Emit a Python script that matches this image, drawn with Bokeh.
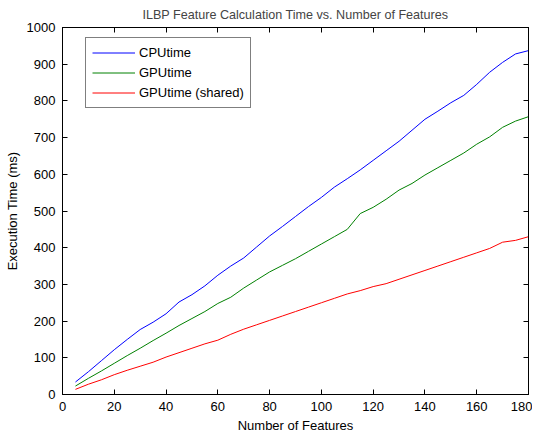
from bokeh.plotting import figure
from bokeh.models import Range1d, LinearAxis, Legend, LegendItem, SingleIntervalTicker
from bokeh.embed import file_html
from bokeh.resources import INLINE

features = list(range(5, 181, 5))
cpu_time = [34, 62, 92, 122, 150, 177, 197, 220, 252, 272, 296, 325, 350, 372, 402, 432,
            458, 485, 512, 537, 565, 588, 612, 638, 664, 690, 720, 750, 772, 795, 815, 845,
            878, 905, 928, 937]
gpu_time = [23, 44, 64, 85, 106, 126, 147, 167, 188, 207, 226, 248, 265, 290, 312, 334,
            352, 370, 390, 410, 430, 450, 493, 510, 532, 557, 575, 598, 618, 638, 658, 682,
            702, 728, 745, 757]
gpu_shared = [14, 28, 40, 54, 66, 77, 88, 102, 114, 126, 138, 148, 164, 178, 190, 202,
              214, 226, 238, 250, 262, 274, 283, 294, 302, 314, 326, 338, 350, 362, 374, 386,
              398, 415, 420, 430]

FONT = "Liberation Sans"

p = figure(width=530, height=433, frame_width=466, frame_height=367,
           output_backend="svg", toolbar_location=None,
           x_range=Range1d(0, 180), y_range=Range1d(0, 1000),
           min_border_left=62, min_border_right=2, min_border_top=27, min_border_bottom=39)

p.title.text = "ILBP Feature Calculation Time vs. Number of Features"
p.title.align = "center"
p.title.text_font = FONT
p.title.text_font_style = "normal"
p.title.text_font_size = "12.6px"
p.title.standoff = 4

p.xgrid.visible = False
p.ygrid.visible = False
p.outline_line_color = "black"
p.outline_line_alpha = 1

p.xaxis.ticker = SingleIntervalTicker(interval=20)
p.yaxis.ticker = SingleIntervalTicker(interval=100)

for ax in (p.xaxis[0], p.yaxis[0]):
    ax.major_tick_in = 5
    ax.major_tick_out = 0
    ax.minor_tick_line_color = None
    ax.axis_line_color = "black"
    ax.major_tick_line_color = "black"
    ax.major_label_text_font = FONT
    ax.major_label_text_font_size = "13px"
    ax.major_label_text_color = "black"
    ax.axis_label_text_font = FONT
    ax.axis_label_text_font_size = "13px"
    ax.axis_label_text_font_style = "normal"
    ax.axis_label_text_color = "black"
    ax.major_label_standoff = 3
    ax.axis_label_standoff = 4

p.xaxis.axis_label = "Number of Features"
p.yaxis.axis_label = "Execution Time (ms)"

top = LinearAxis(ticker=SingleIntervalTicker(interval=20), major_label_text_font_size="0px",
                 major_tick_in=5, major_tick_out=0, minor_tick_line_color=None,
                 major_label_text_color=None)
right = LinearAxis(ticker=SingleIntervalTicker(interval=100), major_label_text_font_size="0px",
                   major_tick_in=5, major_tick_out=0, minor_tick_line_color=None,
                   major_label_text_color=None)
p.add_layout(top, "above")
p.add_layout(right, "right")

r1 = p.line(features, cpu_time, line_color="#0000ff", line_width=1)
r2 = p.line(features, gpu_time, line_color="#008000", line_width=1)
r3 = p.line(features, gpu_shared, line_color="#ff0000", line_width=1)

legend = Legend(items=[LegendItem(label="CPUtime", renderers=[r1]),
                       LegendItem(label="GPUtime", renderers=[r2]),
                       LegendItem(label="GPUtime (shared)", renderers=[r3])],
                location=(23, 286), orientation="vertical")
legend.border_line_color = "black"
legend.border_line_width = 1
legend.background_fill_color = "white"
legend.background_fill_alpha = 1
legend.label_text_font = FONT
legend.label_text_font_size = "13px"
legend.label_text_color = "black"
legend.glyph_width = 43
legend.glyph_height = 17
legend.label_height = 17
legend.label_standoff = 4
legend.padding = 6
legend.spacing = 3
legend.margin = 0
p.add_layout(legend)

open("out.html", "w").write(file_html(p, INLINE))
